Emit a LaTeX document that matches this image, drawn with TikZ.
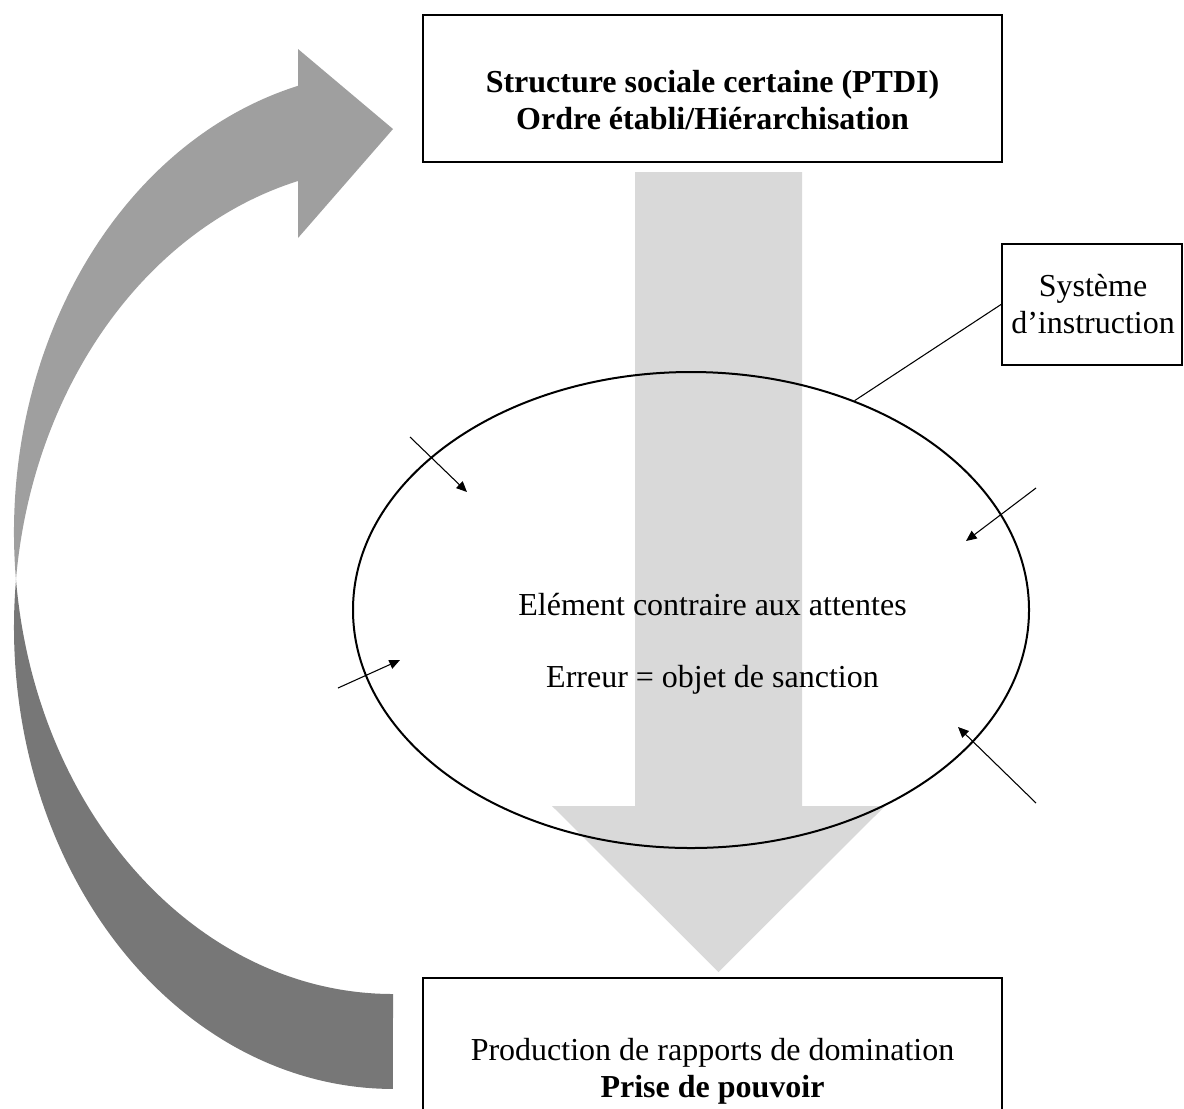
\documentclass[tikz,border=0pt]{standalone}
\usepackage{fontspec}
\setmainfont{Liberation Serif}
\usetikzlibrary{shapes.geometric,arrows.meta}

\definecolor{backband}{HTML}{777777}
\definecolor{frontband}{HTML}{9F9F9F}
\definecolor{flowgray}{HTML}{D9D9D9}

\tikzset{
  cadre/.style={draw, line width=0.75pt, inner sep=0pt},
  texte/.style={align=center, font=\fontsize{12}{13.8}\selectfont, inner sep=0pt},
  fleche/.style={line width=0.4pt, -{Triangle[length=4pt, width=3.5pt]}},
}

\begin{document}
\begin{tikzpicture}[x=0.375pt, y=-0.375pt]
  \useasboundingbox (0,0) rectangle (1184,1108);
  \clip (0,0) rectangle (1184,1108);

  % fleche courbe de retour
  \fill[frontband] (16,580)
    arc[start angle=174.1, end angle=255.5, x radius=379, y radius=461.5]
    -- (298,49) -- (393,129) -- (298,238) -- (298,181)
    arc[start angle=255.5, end angle=185.9, x radius=379, y radius=461.5]
    -- cycle;
  \fill[backband] (16,580)
    arc[start angle=185.9, end angle=90, x radius=379, y radius=461.5]
    -- (393,994)
    arc[start angle=90, end angle=174.1, x radius=379, y radius=461.5]
    -- cycle;

  % grande fleche descendante
  \fill[flowgray] (635,172) -- (802,172) -- (802,806) -- (885,806)
    -- (718.5,972) -- (552,806) -- (635,806) -- cycle;

  % cadres
  \node[cadre, minimum width=217.1pt, minimum height=55.1pt] (ptdi) at (712.5,88.5) {};
  \node[texte, font=\fontsize{12}{13.8}\selectfont\bfseries] (ptditxt) at (712.5,100)
    {Structure sociale certaine (PTDI)\\Ordre établi/Hiérarchisation};

  \node[cadre, minimum width=217.1pt, minimum height=60.75pt] (domin) at (712.5,1059) {};
  \node[texte] (domintxt) at (712.5,1071)
    {Production de rapports de domination\\\textbf{Prise de pouvoir}};

  \node[cadre, minimum width=67.5pt, minimum height=45.4pt] (instr) at (1092,304.5) {};
  \node[texte] (instrtxt) at (1093,304) {Système\\d’instruction};

  % ellipse centrale
  \node[draw, ellipse, line width=0.75pt, minimum width=253.5pt, minimum height=178.5pt,
    inner sep=0pt] (milieu) at (691,610) {};
  \node[texte] (attente) at (712.5,605) {Elément contraire aux attentes};
  \node[texte] (sanction) at (712.5,680) {Erreur = objet de sanction};

  \draw[line width=0.4pt] (instr.west) -- (milieu.52);

  % petites fleches
  \coordinate (p1) at (410,437);
  \coordinate (q1) at (467,492);
  \coordinate (p2) at (1036,488);
  \coordinate (q2) at (966,541);
  \coordinate (p3) at (338,688);
  \coordinate (q3) at (400,660);
  \coordinate (p4) at (1036,803);
  \coordinate (q4) at (958,727);
  \draw[fleche] (p1) -- (q1);
  \draw[fleche] (p2) -- (q2);
  \draw[fleche] (p3) -- (q3);
  \draw[fleche] (p4) -- (q4);
\end{tikzpicture}
\end{document}
